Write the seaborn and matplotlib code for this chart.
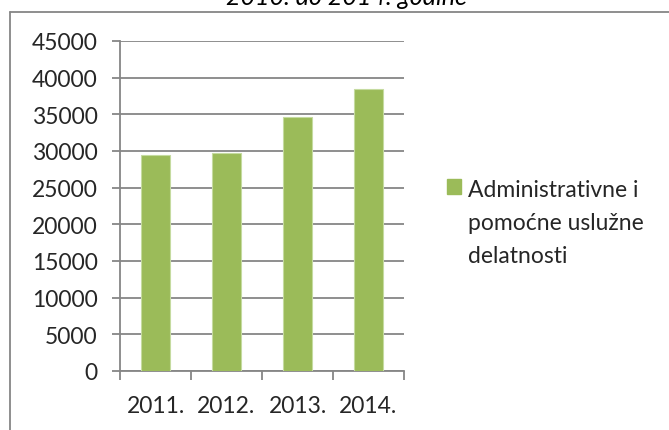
import matplotlib
matplotlib.use("Agg")
import matplotlib.pyplot as plt
import seaborn as sns
import pandas as pd
from matplotlib.patches import Patch
from matplotlib.lines import Line2D

# podaci
godine = ['2011.', '2012.', '2013.', '2014.']
vrednosti = [29400, 29750, 34600, 38400]
naziv_serije = 'Administrativne i\npomoćne uslužne\ndelatnosti'
naslov = '2010. do 2014. godine'

zelena = '#9BBB59'
siva = '#868686'

sns.set_theme(style='white')
plt.rcParams['font.family'] = ['Lato', 'DejaVu Sans']

df = pd.DataFrame({'godina': godine, 'broj': vrednosti})

fig = plt.figure(figsize=(6.69, 4.31), dpi=100)
W, H = 669, 431
ax = fig.add_axes([120 / W, (H - 372) / H, (404 - 120) / W, (372 - 42) / H])

sns.barplot(data=df, x='godina', y='broj', color=zelena, width=0.4,
            saturation=1, edgecolor='#c5dba0', linewidth=0.8, ax=ax, zorder=3)

ax.set_xlim(-0.5, 3.5)
ax.set_ylim(0, 45000)
ax.set_yticks(range(0, 45001, 5000))
ax.set_xlabel('')
ax.set_ylabel('')

# mreza i ose
ax.grid(axis='y', color=siva, linewidth=1.3, zorder=0)
ax.set_axisbelow(True)
for s in ['top', 'right']:
    ax.spines[s].set_visible(False)
for s in ['left', 'bottom']:
    ax.spines[s].set_color(siva)
    ax.spines[s].set_linewidth(1.3)

ax.tick_params(axis='y', which='major', length=6, width=1.3, color=siva,
               direction='out', labelsize=16.5, pad=10, left=True)
ax.tick_params(axis='x', which='major', length=0, labelsize=16.5, pad=17)
ax.set_xticks([-0.5, 0.5, 1.5, 2.5, 3.5], minor=True)
ax.tick_params(axis='x', which='minor', length=6.5, width=1.3, color=siva,
               direction='out', bottom=True)

# legenda
leg = ax.legend(handles=[Patch(facecolor=zelena, edgecolor=zelena)], labels=[naziv_serije],
                loc='upper left', bbox_to_anchor=(447 / W, 1 - 180 / H),
                bbox_transform=fig.transFigure, frameon=False, fontsize=16.5,
                handlelength=0.62, handleheight=0.62, handletextpad=0.3,
                labelspacing=0, borderpad=0, borderaxespad=0)
for t in leg.get_texts():
    t.set_linespacing(1.72)
# kvadrat poravnat sa prvim redom
for col in leg._legend_handle_box.get_children():
    for item in col.get_children():
        item.align = 'top'

# naslov (odsecen na vrhu)
fig.text(347 / W, 1 - 5 / H, naslov, ha='center', va='baseline',
         fontsize=18, style='italic', color='black')

# okvir grafikona
fig.add_artist(Line2D([10 / W, 10 / W], [0, 1 - 12.7 / H], color=siva,
                      linewidth=1.3, transform=fig.transFigure))
fig.add_artist(Line2D([10 / W, 1], [1 - 12.7 / H, 1 - 12.7 / H], color=siva,
                      linewidth=1.3, transform=fig.transFigure))

fig.savefig('out.png', dpi=100, facecolor='white')
